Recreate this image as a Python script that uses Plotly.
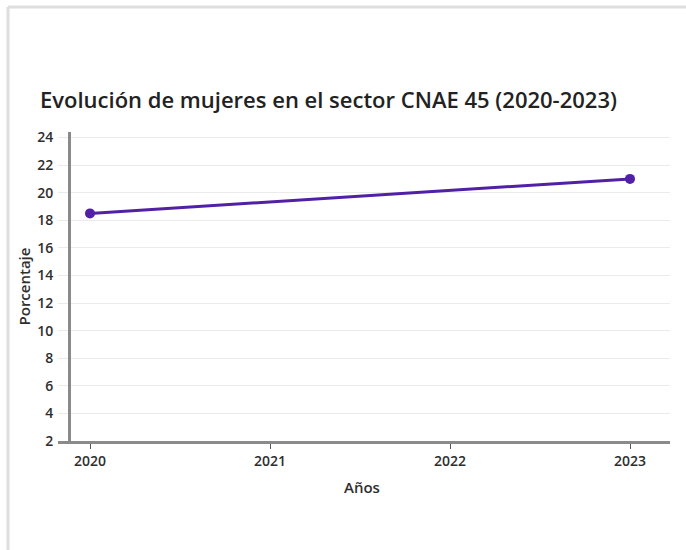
import plotly.graph_objects as go

# Share of women in CNAE 45 sector
years = [2020, 2023]
percent = [18.5, 21.0]

tick_years = [2020, 2021, 2022, 2023]
y_ticks = [2, 4, 6, 8, 10, 12, 14, 16, 18, 20, 22, 24]

W, H = 686, 550
L, R, T, B = 58, 16, 132, 109
plot_w = W - L - R
plot_h = H - T - B

font_family = "Open Sans, Noto Sans, sans-serif"
purple = "#5220a6"
text_color = "#2e2e2e"

fig = go.Figure(
    go.Scatter(
        x=years,
        y=percent,
        mode="lines+markers",
        line=dict(color=purple, width=3),
        marker=dict(color=purple, size=10),
        hoverinfo="x+y",
    )
)

# light frame around the card (top and left edges)
frame_x = (8 - L) / plot_w
frame_y = 1 + (T - 7) / plot_h
frame_bottom = 1 + (T - H - 5) / plot_h
frame_right = (W + 5 - L) / plot_w
frame_style = dict(color="#dedede", width=3)
fig.add_shape(type="line", xref="paper", yref="paper",
              x0=frame_x, x1=frame_x, y0=frame_bottom, y1=frame_y, line=frame_style)
fig.add_shape(type="line", xref="paper", yref="paper",
              x0=frame_x, x1=frame_right, y0=frame_y, y1=frame_y, line=frame_style)

fig.update_layout(
    width=W,
    height=H,
    margin=dict(l=L, r=R, t=T, b=B),
    paper_bgcolor="white",
    plot_bgcolor="white",
    showlegend=False,
    font=dict(family=font_family, color=text_color, size=13),
    title=dict(
        text="Evolución de mujeres en el sector CNAE 45 (2020-2023)",
        xref="container", x=40 / W, xanchor="left",
        yref="container", y=1 - 100 / H, yanchor="middle",
        font=dict(family=font_family, size=22, color="#222222", weight=600),
    ),
    xaxis=dict(
        range=[2020 - 32 / 180, 2023 + 40 / 180],
        tickvals=tick_years,
        ticktext=[str(y) for y in tick_years],
        showgrid=False,
        zeroline=False,
        showline=True,
        linecolor="#8a8a8a",
        linewidth=3,
        ticks="outside",
        ticklen=5,
        tickwidth=1,
        tickcolor="#555555",
        tickfont=dict(size=14, color=text_color, weight=600),
        fixedrange=True,
    ),
    yaxis=dict(
        range=[2, 24.4],
        tickvals=y_ticks,
        anchor="free",
        position=11 / plot_w,
        showgrid=True,
        gridcolor="#ebebeb",
        gridwidth=1,
        zeroline=False,
        showline=True,
        linecolor="#8a8a8a",
        linewidth=3,
        ticks="",
        ticklabelstandoff=12,
        tickfont=dict(size=14, color=text_color, weight=600),
        fixedrange=True,
    ),
    annotations=[
        dict(text="Años", xref="paper", yref="paper",
             x=(362 - L) / plot_w, y=-(487 - (T + plot_h)) / plot_h,
             xanchor="center", yanchor="middle", showarrow=False,
             font=dict(size=15, color=text_color, weight=600)),
        dict(text="Porcentaje", xref="paper", yref="paper",
             x=(23 - L) / plot_w, y=0.5, textangle=-90,
             xanchor="center", yanchor="middle", showarrow=False,
             font=dict(size=15, color=text_color, weight=600)),
    ],
)

fig.write_html("out.html")
